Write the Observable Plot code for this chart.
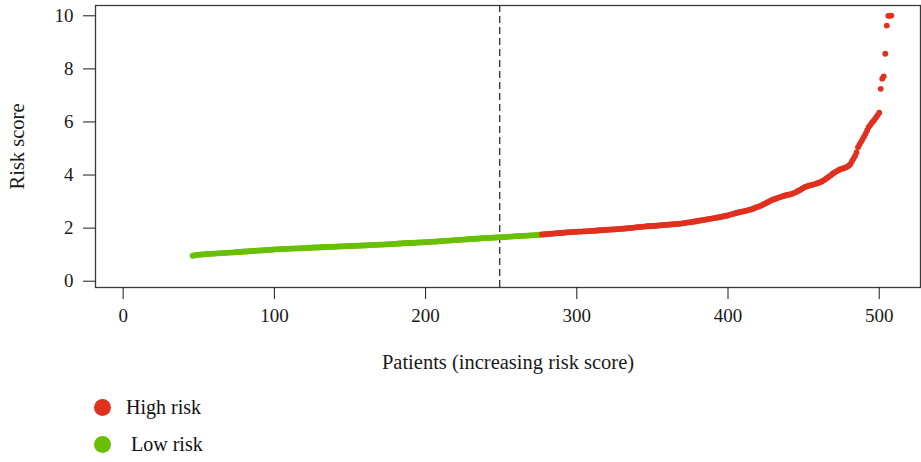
<!DOCTYPE html>
<html><head><meta charset="utf-8">
<script src="https://cdn.jsdelivr.net/npm/d3@7"></script>
<script src="https://cdn.jsdelivr.net/npm/@observablehq/plot@0.6"></script>
<style>
body{margin:0;background:#fff;font-family:"Liberation Serif",serif;}
#wrap{position:relative;width:921px;height:462px;}
#legend{position:absolute;left:94px;top:389px;}
.row{display:flex;align-items:center;height:37px;font-size:20px;color:#111;white-space:pre;}
.sw{width:17px;height:17px;border-radius:50%;margin-right:15px;}
</style></head><body><div id="wrap"></div>
<script>
// First patient index shown, then one risk score per patient (sorted ascending)
const startPatient = 46;
const riskScores = [
  0.96,0.97,0.98,0.99,
  1.00,1.00,1.01,1.01,1.02,1.02,1.03,1.03,1.03,1.04,
  1.04,1.04,1.05,1.05,1.05,1.06,1.06,1.07,1.07,1.07,
  1.08,1.08,1.08,1.09,1.09,1.10,1.10,1.10,1.11,1.11,
  1.12,1.12,1.12,1.13,1.13,1.14,1.14,1.14,1.15,1.15,
  1.16,1.16,1.16,1.17,1.17,1.18,1.18,1.18,1.19,1.19,
  1.20,1.20,1.20,1.21,1.21,1.21,1.22,1.22,1.22,1.22,
  1.23,1.23,1.23,1.23,1.24,1.24,1.24,1.24,1.25,1.25,
  1.25,1.25,1.26,1.26,1.26,1.26,1.27,1.27,1.27,1.27,
  1.28,1.28,1.28,1.28,1.29,1.29,1.29,1.29,1.30,1.30,
  1.30,1.30,1.31,1.31,1.31,1.31,1.32,1.32,1.32,1.32,
  1.33,1.33,1.33,1.33,1.34,1.34,1.34,1.34,1.35,1.35,
  1.35,1.35,1.36,1.36,1.36,1.36,1.37,1.37,1.37,1.38,
  1.38,1.38,1.38,1.39,1.39,1.39,1.40,1.40,1.40,1.41,
  1.41,1.41,1.42,1.42,1.42,1.43,1.43,1.43,1.44,1.44,
  1.44,1.44,1.45,1.45,1.45,1.46,1.46,1.46,1.46,1.47,
  1.47,1.47,1.48,1.48,1.49,1.49,1.49,1.50,1.50,1.51,
  1.51,1.51,1.52,1.52,1.53,1.53,1.53,1.54,1.54,1.55,
  1.55,1.55,1.56,1.56,1.57,1.57,1.57,1.58,1.58,1.59,
  1.59,1.59,1.60,1.60,1.60,1.61,1.61,1.62,1.62,1.62,
  1.63,1.63,1.63,1.64,1.64,1.64,1.65,1.65,1.65,1.66,
  1.66,1.66,1.67,1.67,1.67,1.68,1.68,1.68,1.69,1.69,
  1.70,1.70,1.70,1.71,1.71,1.71,1.72,1.72,1.72,1.73,
  1.73,1.73,1.74,1.74,1.74,1.75,1.75,
  1.76,1.76,1.77,1.77,1.78,1.78,1.79,1.79,1.80,1.80,1.81,1.81,1.82,
  1.82,1.83,1.83,1.84,1.84,1.85,1.85,1.85,1.86,1.86,
  1.86,1.87,1.87,1.87,1.88,1.88,1.88,1.89,1.89,1.89,
  1.90,1.90,1.90,1.91,1.91,1.92,1.92,1.92,1.93,1.93,
  1.94,1.94,1.94,1.95,1.95,1.95,1.96,1.96,1.97,1.97,
  1.98,1.98,1.99,1.99,2.00,2.00,2.01,2.01,2.02,2.03,
  2.04,2.04,2.05,2.05,2.06,2.06,2.07,2.07,2.07,2.08,
  2.08,2.08,2.09,2.09,2.10,2.10,2.11,2.11,2.12,2.12,
  2.13,2.13,2.14,2.14,2.15,2.15,2.16,2.16,2.17,2.17,
  2.18,2.19,2.20,2.21,2.22,2.22,2.23,2.24,2.25,2.26,
  2.27,2.28,2.29,2.30,2.31,2.32,2.33,2.34,2.35,2.36,
  2.37,2.38,2.39,2.40,2.41,2.42,2.43,2.45,2.46,2.47,
  2.48,2.50,2.52,2.53,2.55,2.56,2.58,2.59,2.61,2.62,
  2.63,2.64,2.66,2.67,2.69,2.70,2.72,2.74,2.77,2.79,
  2.81,2.83,2.85,2.88,2.91,2.94,2.97,3.00,3.03,3.06,
  3.08,3.10,3.12,3.14,3.16,3.18,3.20,3.22,3.23,3.25,
  3.26,3.27,3.29,3.31,3.33,3.36,3.39,3.42,3.45,3.49,
  3.52,3.55,3.57,3.59,3.61,3.62,3.64,3.65,3.67,3.69,
  3.71,3.73,3.76,3.79,3.83,3.87,3.91,3.95,3.99,4.04,
  4.08,4.12,4.15,4.18,4.21,4.23,4.25,4.27,4.29,4.32,
  4.36,4.42,4.52,4.62,4.72,4.85,5.05,5.15,5.25,5.35,
  5.45,5.56,5.68,5.80,5.88,5.96,6.03,6.10,6.18,6.26,
  6.35,7.25,7.63,7.72,8.57,9.63,10.00,10.00,10.01
];
const lastLowRiskPatient = 276;
const cutoffPatient = 249;
const xTicks = [0, 100, 200, 300, 400, 500];
const yTicks = [0, 2, 4, 6, 8, 10];
const groups = ["High risk", "Low risk"];
const groupLabels = ["High risk", " Low risk"];
const groupColors = ["#e1301f", "#68c000"];
const xLabel = "Patients (increasing risk score)";
const yLabel = "Risk score";

const data = riskScores.map((v, i) => {
  const p = startPatient + i;
  return {patient: p, score: v, group: p <= lastLowRiskPatient ? "Low risk" : "High risk"};
});

const H = 385;
const chart = Plot.plot({
  width: 921, height: H,
  marginLeft: 95, marginRight: 1, marginTop: 5, marginBottom: H - 287,
  style: {fontFamily: "'Liberation Serif', serif", fontSize: "19px", color: "#1a1a1a", background: "transparent"},
  x: {domain: [-18.3, 527.3]},
  y: {domain: [-0.237, 10.388]},
  color: {domain: groups, range: groupColors},
  marks: [
    Plot.ruleX([cutoffPatient], {stroke: "#3a3a3a", strokeWidth: 1.4, strokeDasharray: "7,4"}),
    Plot.dot(data, {x: "patient", y: "score", fill: "group", r: 2.9}),
    Plot.frame({stroke: "#3a3a3a", strokeWidth: 1.3}),
    Plot.axisX({ticks: xTicks, tickSize: 12, tickPadding: 9, label: null, fontSize: 19}),
    Plot.axisY({ticks: yTicks, tickSize: 12, tickPadding: 10, label: null, fontSize: 19}),
    Plot.axisX({ticks: [], tickSize: 0, label: xLabel, labelArrow: "none", labelAnchor: "center", labelOffset: 81, fontSize: 20.5}),
    Plot.axisY({ticks: [], tickSize: 0, label: yLabel, labelArrow: "none", labelAnchor: "center", labelOffset: 86, fontSize: 20.5})
  ]
});
const wrap = document.getElementById("wrap");
wrap.appendChild(chart);

const legend = document.createElement("div");
legend.id = "legend";
groups.forEach((g, i) => {
  const row = document.createElement("div");
  row.className = "row";
  const sw = document.createElement("span");
  sw.className = "sw";
  sw.style.background = groupColors[i];
  const t = document.createElement("span");
  t.textContent = groupLabels[i];
  row.appendChild(sw); row.appendChild(t);
  legend.appendChild(row);
});
wrap.appendChild(legend);
</script></body></html>
